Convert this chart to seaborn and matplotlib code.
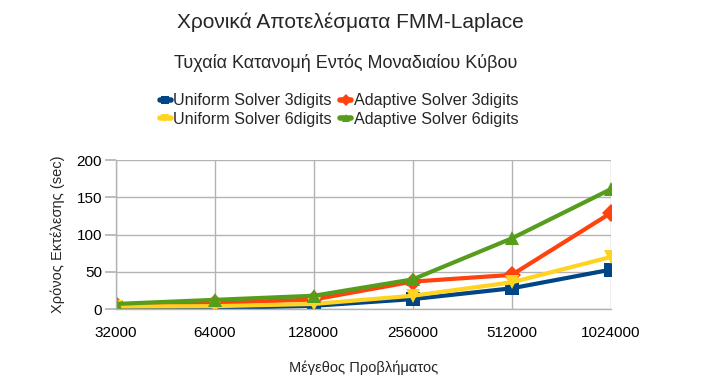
import matplotlib
matplotlib.use("Agg")
import matplotlib.pyplot as plt
import seaborn as sns
import pandas as pd
from matplotlib.lines import Line2D

sizes = ["32000", "64000", "128000", "256000", "512000", "1024000"]
uniform_3 = [1, 1.5, 4.5, 13.5, 28, 53]
adaptive_3 = [5.5, 8, 13, 37, 46, 129]
uniform_6 = [3.5, 4, 7, 18, 36, 70]
adaptive_6 = [7, 12.5, 18, 40, 95, 161]

names = ["Uniform Solver 3digits", "Adaptive Solver 3digits",
         "Uniform Solver 6digits", "Adaptive Solver 6digits"]
series = [uniform_3, adaptive_3, uniform_6, adaptive_6]
colors = ["#004586", "#ff420e", "#ffd320", "#579d1c"]
markers = ["s", "D", "v", "^"]

rows = []
for n, vals in zip(names, series):
    for i, (s, v) in enumerate(zip(sizes, vals)):
        rows.append({"pos": i, "size": s, "time": v, "series": n})
df = pd.DataFrame(rows)

sns.set_theme(style="white")
plt.rcParams['font.family'] = ['Liberation Sans', 'DejaVu Sans']

fig = plt.figure(figsize=(7.11, 3.85), dpi=100)
ax = fig.add_axes([0.163, 0.197, 0.696, 0.387])

sns.lineplot(data=df, x="pos", y="time", hue="series", style="series",
             hue_order=names, style_order=names,
             palette=dict(zip(names, colors)),
             markers=dict(zip(names, markers)), dashes=False,
             linewidth=3, markersize=9.5, markeredgewidth=0,
             legend=False, ax=ax)

ax.set_xlim(0, 5)
ax.set_ylim(0, 200)
ax.set_xticks(range(len(sizes)))
ax.set_xticklabels(sizes)
ax.set_yticks([0, 50, 100, 150, 200])
ax.grid(True, color="#b3b3b3", linewidth=1)
ax.set_axisbelow(True)
for sp in ["top", "right"]:
    ax.spines[sp].set_visible(False)
for sp in ["left", "bottom"]:
    ax.spines[sp].set_color("#b3b3b3")
    ax.spines[sp].set_linewidth(1)
ax.tick_params(axis="y", which="both", left=True, length=8, color="#b3b3b3",
               labelsize=11, pad=2, labelcolor="#000000")
ax.tick_params(axis="x", bottom=False, labelsize=11, pad=6, labelcolor="#000000")
ax.set_xlabel("Μέγεθος Προβλήματος", fontsize=10.5, labelpad=15)
ax.set_ylabel("Χρόνος Εκτέλεσης (sec)", fontsize=10.5, labelpad=8)

fig.text(0.493, 0.943, "Χρονικά Αποτελέσματα FMM-Laplace", ha="center", va="center", fontsize=15)
fig.text(0.486, 0.836, "Τυχαία Κατανομή Εντός Μοναδιαίου Κύβου", ha="center", va="center", fontsize=13)

order = [0, 2, 1, 3]
handles = [Line2D([0], [0], color=colors[i], marker=markers[i], lw=4, markersize=6,
                  markeredgewidth=0) for i in order]
labels = [names[i] for i in order]
fig.legend(handles, labels, loc="center", bbox_to_anchor=(0.477, 0.714), ncol=2,
           frameon=False, fontsize=11.6, handlelength=0.7, handletextpad=0.15,
           columnspacing=0.5, labelspacing=0.2, borderpad=0)

fig.savefig("out.png", dpi=100)
